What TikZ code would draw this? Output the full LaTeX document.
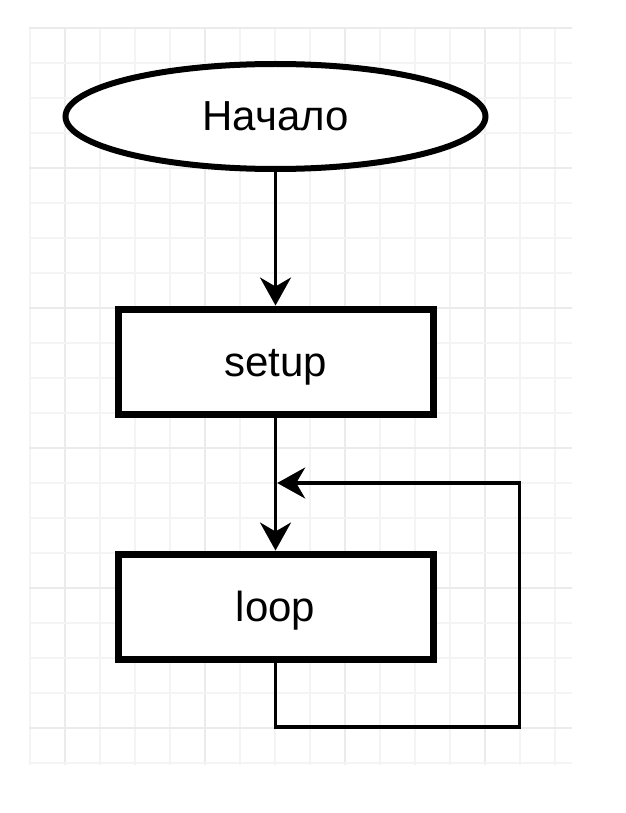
\documentclass[tikz,border=0pt]{standalone}
\usepackage{fontspec}
\setmainfont{Liberation Sans}
\usetikzlibrary{shapes.geometric,arrows.meta}
\definecolor{gridminor}{HTML}{F4F4F4}
\definecolor{gridmajor}{HTML}{EBEBEB}
\tikzset{
  flowtext/.style={font=\fontsize{42}{50}\selectfont, text height=38pt, text depth=9pt, inner sep=0pt},
  startnode/.style={flowtext, ellipse, draw=black, line width=6pt, fill=white, minimum width=420pt, minimum height=105pt},
  procnode/.style={flowtext, rectangle, draw=black, line width=7pt, fill=white, minimum width=315pt, minimum height=105pt},
  conn/.style={draw=black, line width=3.2pt, line join=miter, -{Stealth[length=28pt,width=31pt,inset=9pt]}},
}
\begin{document}
\begin{tikzpicture}[x=1pt,y=-1pt]
  \useasboundingbox (0,0) rectangle (625,813);
  \fill[white] (0,0) rectangle (625,813);
  % grid
  \begin{scope}
    \clip (29,27) rectangle (572,765);
    \foreach \k in {0,...,15} {
      \pgfmathtruncatemacro{\m}{mod(\k,4)}
      \ifnum\m=1
        \draw[gridmajor, line width=2pt] ({30+35*\k},27) -- ({30+35*\k},765);
      \else
        \draw[gridminor, line width=2pt] ({30+35*\k},27) -- ({30+35*\k},765);
      \fi
    }
    \foreach \k in {0,...,21} {
      \pgfmathtruncatemacro{\m}{mod(\k,4)}
      \ifnum\m=0
        \draw[gridmajor, line width=2pt] (29,{28+35*\k}) -- (572,{28+35*\k});
      \else
        \draw[gridminor, line width=2pt] (29,{28+35*\k}) -- (572,{28+35*\k});
      \fi
    }
  \end{scope}
  % nodes
  \node[startnode] (start) at (275.5,116.5) {Начало};
  \node[procnode] (setup) at (275.5,361.5) {setup};
  \node[procnode] (loop) at (275.5,606.5) {loop};
  \coordinate (br) at (519.5,727);
  \coordinate (join) at (277.2,483);
  % connectors
  \draw[conn] (start.south) -- (setup.north);
  \draw[conn] (setup.south) -- (loop.north);
  \draw[conn] (loop.south) |- (br) |- (join);
\end{tikzpicture}
\end{document}
